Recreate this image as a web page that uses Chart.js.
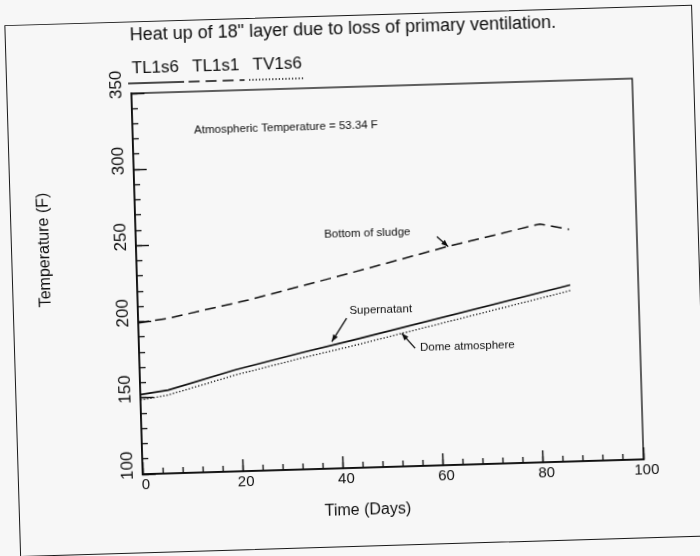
<!DOCTYPE html>
<html>
<head>
<meta charset="utf-8">
<script src="https://cdn.jsdelivr.net/npm/chart.js@4.4.1/dist/chart.umd.min.js"></script>
<style>
html,body{margin:0;padding:0;width:700px;height:556px;overflow:hidden;background:#f7f7f7;}
#wrap{position:absolute;left:0;top:0;width:700px;height:556px;transform:rotate(-1.7deg);transform-origin:350px 278px;}
#frame{position:absolute;left:12px;top:15px;width:688px;height:532px;border:1.4px solid #1a1a1a;box-sizing:border-box;}
canvas{position:absolute;left:0;top:0;}
</style>
</head>
<body>
<div id="wrap"><div id="frame"></div><canvas id="c" width="700" height="556"></canvas></div>
<script>
// ---------- data ----------
const chartTitle = 'Heat up of 18" layer due to loss of primary ventilation.';
const xAxisTitle = 'Time (Days)';
const yAxisTitle = 'Temperature (F)';
const seriesLabels = ['TL1s6', 'TL1s1', 'TV1s6'];

const supernatantDays = [0, 5.6, 19.0, 32.4, 42.8, 86.4];
const supernatantTemp = [152.2, 154.7, 166.6, 176.6, 183.9, 215.8];

const sludgeDays = [0, 6.0, 22.1, 42.5, 62.0, 80.7, 86.5];
const sludgeTemp = [199.3, 201.8, 212.2, 227.8, 243.3, 256.4, 252.3];

const domeDays = [0, 5.6, 19.0, 32.4, 42.8, 86.4];
const domeTemp = [148.7, 151.5, 163.2, 173.1, 180.2, 212.1];

const xTickValues = [0, 20, 40, 60, 80, 100];
const yTickValues = [100, 150, 200, 250, 300, 350];

const noteTexts = ['Atmospheric Temperature = 53.34 F', 'Bottom of sludge', 'Supernatant', 'Dome atmosphere'];
const noteDays = [12.3, 37.6, 42.2, 56.1];
const noteTemps = [324.7, 253.8, 203.0, 177.6];
const arrowFromDays = [60.1, 41.6, 55.1];
const arrowFromTemps = [250.1, 198.3, 177.3];
const arrowToDays = [62.3, 38.5, 52.5];
const arrowToTemps = [243.3, 183.3, 187.4];

// ---------- styling ----------
const FONT = '"Liberation Sans", Arial, Helvetica, sans-serif';
const INK = '#0e0e0e';
const pts = (xs, ys) => xs.map((v, i) => ({x: v, y: ys[i]}));

const framePlugin = {
  id: 'frame',
  beforeDatasetsDraw(chart) {
    const {ctx, chartArea: a} = chart;
    ctx.save();
    ctx.strokeStyle = INK; ctx.lineWidth = 1.3;
    ctx.strokeRect(a.left, a.top, a.right - a.left, a.bottom - a.top);
    ctx.restore();
  }
};

const annotatePlugin = {
  id: 'annotate',
  afterDatasetsDraw(chart) {
    const {ctx, scales: {x, y}} = chart;
    ctx.save();
    ctx.fillStyle = INK;
    ctx.font = '11.5px ' + FONT;
    ctx.textBaseline = 'middle';
    ctx.textAlign = 'left';
    noteTexts.forEach((t, i) => ctx.fillText(t, x.getPixelForValue(noteDays[i]), y.getPixelForValue(noteTemps[i])));
    ctx.strokeStyle = INK; ctx.lineWidth = 1.3;
    arrowFromDays.forEach((d, i) => {
      const x1 = x.getPixelForValue(d), y1 = y.getPixelForValue(arrowFromTemps[i]);
      const x2 = x.getPixelForValue(arrowToDays[i]), y2 = y.getPixelForValue(arrowToTemps[i]);
      ctx.beginPath(); ctx.moveTo(x1, y1); ctx.lineTo(x2, y2); ctx.stroke();
      const a = Math.atan2(y2 - y1, x2 - x1), L = 7, W = 2.7;
      ctx.beginPath();
      ctx.moveTo(x2, y2);
      ctx.lineTo(x2 - L * Math.cos(a) + W * Math.sin(a), y2 - L * Math.sin(a) - W * Math.cos(a));
      ctx.lineTo(x2 - L * Math.cos(a) - W * Math.sin(a), y2 - L * Math.sin(a) + W * Math.cos(a));
      ctx.closePath(); ctx.fill();
    });
    ctx.restore();
  }
};

const sideTextPlugin = {
  id: 'sideText',
  afterDraw(chart) {
    const {ctx, chartArea: a} = chart;
    ctx.save();
    ctx.fillStyle = INK;
    // axis titles
    ctx.font = '16px ' + FONT;
    ctx.textAlign = 'center'; ctx.textBaseline = 'middle';
    ctx.fillText(xAxisTitle, a.left + 224, a.bottom + 42.5);
    ctx.save();
    ctx.translate(a.left - 91, a.top + 154);
    ctx.rotate(-Math.PI / 2);
    ctx.fillText(yAxisTitle, 0, 0);
    ctx.restore();
    // legend: label above a line sample
    ctx.font = '17px ' + FONT;
    ctx.textAlign = 'left';
    chart.data.datasets.forEach((ds, i) => {
      const tx = a.left + 1 + i * 60.5;
      ctx.fillText(ds.label, tx, a.top - 25);
      ctx.save();
      ctx.strokeStyle = ds.borderColor; ctx.lineWidth = ds.borderWidth;
      ctx.setLineDash(ds.borderDash || []);
      ctx.beginPath(); ctx.moveTo(tx - 4, a.top - 10); ctx.lineTo(tx + 52, a.top - 10); ctx.stroke();
      ctx.restore();
    });
    ctx.restore();
  }
};

new Chart(document.getElementById('c'), {
  type: 'line',
  data: {
    datasets: [
      {label: seriesLabels[0], data: pts(supernatantDays, supernatantTemp), borderColor: INK, borderWidth: 1.7, borderDash: [], pointRadius: 0, tension: 0, fill: false},
      {label: seriesLabels[1], data: pts(sludgeDays, sludgeTemp), borderColor: INK, borderWidth: 1.5, borderDash: [11, 6], pointRadius: 0, tension: 0, fill: false},
      {label: seriesLabels[2], data: pts(domeDays, domeTemp), borderColor: INK, borderWidth: 1.3, borderDash: [1.3, 2], pointRadius: 0, tension: 0, fill: false}
    ]
  },
  options: {
    responsive: false,
    animation: false,
    devicePixelRatio: 1,
    layout: {padding: {left: 0, right: 62, top: 0, bottom: 48}},
    plugins: {
      legend: {display: false},
      tooltip: {enabled: false},
      title: {
        display: true, text: chartTitle, align: 'start', fullSize: false, color: INK,
        font: {size: 18, family: FONT, weight: 'normal', lineHeight: 1.2},
        padding: {top: 18, bottom: 47.4}
      }
    },
    scales: {
      x: {
        type: 'linear', min: 0, max: 100, position: 'bottom', weight: 1,
        afterBuildTicks: s => { s.ticks = xTickValues.map(v => ({value: v})); },
        ticks: {font: {size: 15, family: FONT}, color: INK, padding: 13.5, labelOffset: 3, maxRotation: 0, autoSkip: false},
        grid: {display: true, drawOnChartArea: false, drawTicks: true, tickLength: -12, tickWidth: 1.4, tickColor: INK},
        border: {display: true, color: INK, width: 1.7},
        afterFit: s => { s.height = 40; }
      },
      xMinor: {
        type: 'linear', min: 0, max: 100, position: 'bottom', weight: 0,
        ticks: {display: false, stepSize: 4},
        grid: {display: true, drawOnChartArea: false, drawTicks: true, tickLength: -6, tickWidth: 1.3, tickColor: INK},
        border: {display: false},
        afterFit: s => { s.height = 0; }
      },
      y: {
        type: 'linear', min: 100, max: 350, position: 'left', weight: 1,
        afterBuildTicks: s => { s.ticks = yTickValues.map(v => ({value: v})); },
        ticks: {font: {size: 17, family: FONT}, color: INK, padding: 14, labelOffset: -9, minRotation: 90, maxRotation: 90, crossAlign: 'center', autoSkip: false},
        grid: {display: true, drawOnChartArea: false, drawTicks: true, tickLength: -13, tickWidth: 1.4, tickColor: INK},
        border: {display: true, color: INK, width: 1.7},
        afterFit: s => { s.width = 137; }
      },
      yMinor: {
        type: 'linear', min: 100, max: 350, position: 'left', weight: 0,
        ticks: {display: false, stepSize: 10},
        grid: {display: true, drawOnChartArea: false, drawTicks: true, tickLength: -6, tickWidth: 1.3, tickColor: INK},
        border: {display: false},
        afterFit: s => { s.width = 0; }
      }
    }
  },
  plugins: [framePlugin, annotatePlugin, sideTextPlugin]
});
</script>
</body>
</html>
